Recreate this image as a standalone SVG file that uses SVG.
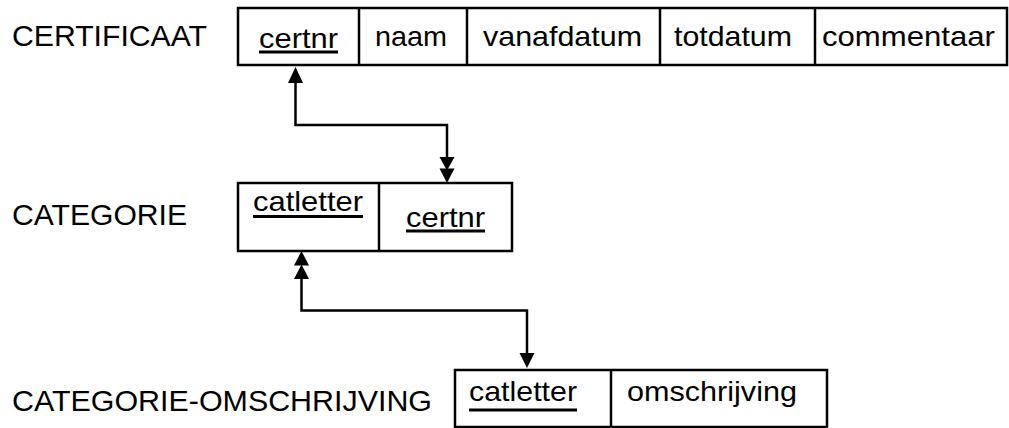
<svg xmlns="http://www.w3.org/2000/svg" width="1009" height="428" viewBox="0 0 1009 428">
<style>
  .lbl { font-family: "Liberation Sans", Arial, sans-serif; font-size: 30px; fill: #000; }
  .fld { font-family: "Liberation Sans", Arial, sans-serif; font-size: 28px; fill: #000; }
  .box { fill: #fff; stroke: #000; stroke-width: 2.5; }
  .div { stroke: #000; stroke-width: 2.5; }
  .ul { stroke: #000; stroke-width: 2.8; }
  .con { fill: none; stroke: #000; stroke-width: 2.5; }
  .ah { fill: #000; stroke: none; }
</style>
<rect width="1009" height="428" fill="#fff"/>

<g id="certificaat">
  <text class="lbl" x="12" y="46" textLength="195" lengthAdjust="spacingAndGlyphs">CERTIFICAAT</text>
  <rect class="box" x="238" y="8" width="769" height="57"/>
  <line class="div" x1="359" y1="8" x2="359" y2="65"/>
  <line class="div" x1="467" y1="8" x2="467" y2="65"/>
  <line class="div" x1="660" y1="8" x2="660" y2="65"/>
  <line class="div" x1="815" y1="8" x2="815" y2="65"/>
  <text class="fld" x="259" y="48" textLength="79" lengthAdjust="spacingAndGlyphs">certnr</text>
  <line class="ul" x1="259" y1="52" x2="338" y2="52"/>
  <text class="fld" x="375" y="46" textLength="72" lengthAdjust="spacingAndGlyphs">naam</text>
  <text class="fld" x="483" y="46" textLength="159" lengthAdjust="spacingAndGlyphs">vanafdatum</text>
  <text class="fld" x="674" y="46" textLength="118" lengthAdjust="spacingAndGlyphs">totdatum</text>
  <text class="fld" x="822" y="46" textLength="173" lengthAdjust="spacingAndGlyphs">commentaar</text>
</g>

<g id="categorie">
  <text class="lbl" x="12" y="225" textLength="175" lengthAdjust="spacingAndGlyphs">CATEGORIE</text>
  <rect class="box" x="238" y="183" width="274" height="68"/>
  <line class="div" x1="379" y1="183" x2="379" y2="251"/>
  <text class="fld" x="253" y="211" textLength="110" lengthAdjust="spacingAndGlyphs">catletter</text>
  <line class="ul" x1="253" y1="216.5" x2="363" y2="216.5"/>
  <text class="fld" x="406" y="227" textLength="79" lengthAdjust="spacingAndGlyphs">certnr</text>
  <line class="ul" x1="406" y1="231" x2="485" y2="231"/>
</g>

<g id="categorie-omschrijving">
  <text class="lbl" x="12" y="411" textLength="420" lengthAdjust="spacingAndGlyphs">CATEGORIE-OMSCHRIJVING</text>
  <rect class="box" x="455" y="370" width="372" height="57"/>
  <line class="div" x1="611" y1="370" x2="611" y2="427"/>
  <text class="fld" x="469" y="401" textLength="108" lengthAdjust="spacingAndGlyphs">catletter</text>
  <line class="ul" x1="469" y1="410" x2="577" y2="410"/>
  <text class="fld" x="627" y="401" textLength="170" lengthAdjust="spacingAndGlyphs">omschrijving</text>
</g>

<g id="connectors">
  <path class="con" d="M295.5,80 V125 H447 V160"/>
  <polygon class="ah" points="295.5,67 303,83 288,83"/>
  <polygon class="ah" points="439.5,157 454.5,157 447,170.5"/>
  <polygon class="ah" points="439.5,168.5 454.5,168.5 447,183"/>

  <path class="con" d="M301.5,276 V310.5 H527 V356"/>
  <polygon class="ah" points="301.5,251 309,265.5 294,265.5"/>
  <polygon class="ah" points="301.5,264.5 309,279 294,279"/>
  <polygon class="ah" points="519.5,353 534.5,353 527,368"/>
</g>
</svg>
